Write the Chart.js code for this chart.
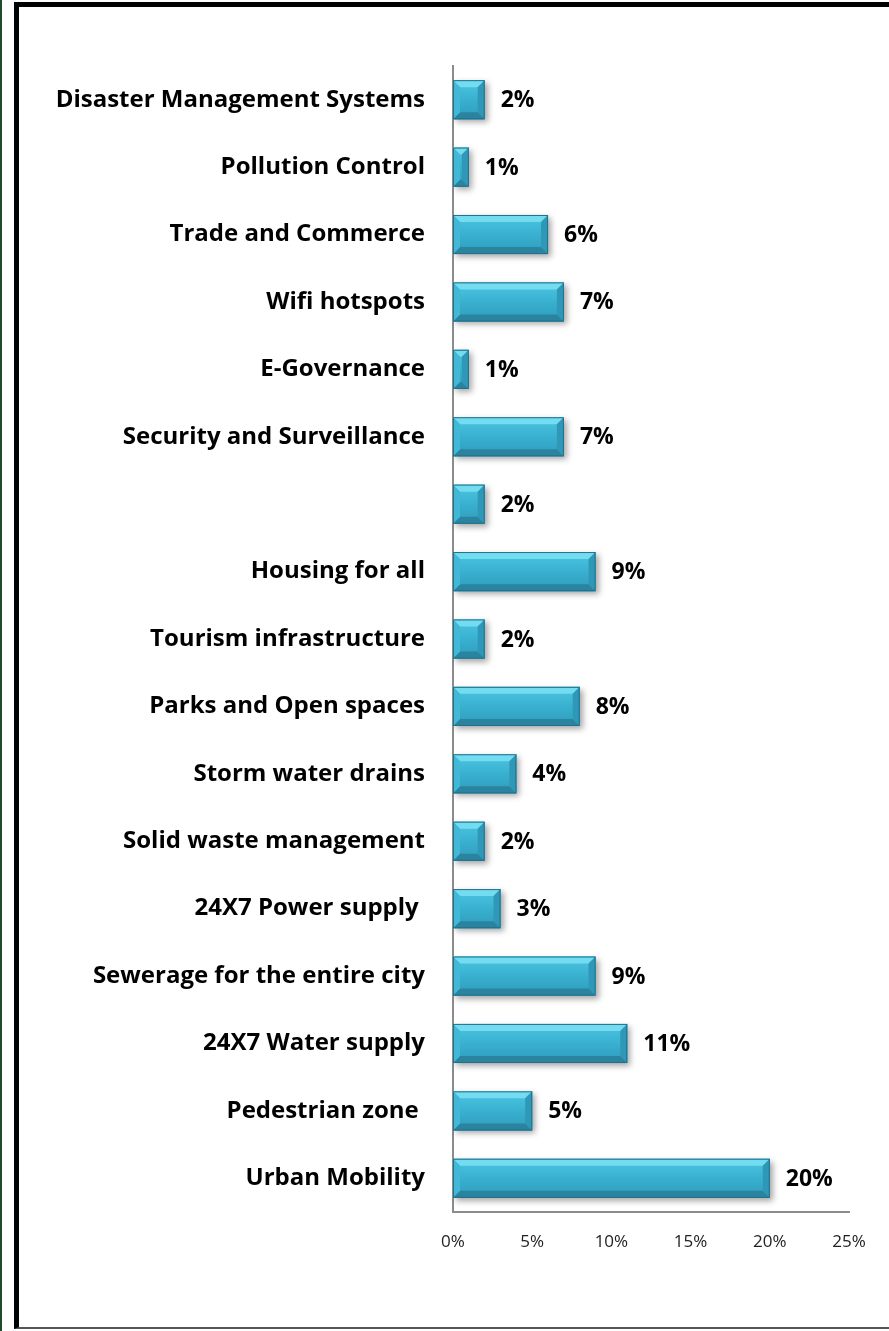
<!DOCTYPE html>
<html>
<head>
<meta charset="utf-8">
<script src="https://cdn.jsdelivr.net/npm/chart.js@4.4.1/dist/chart.umd.min.js"></script>
<style>
  html, body { margin: 0; padding: 0; background: #fff; overflow: hidden; }
  #strip { position: absolute; left: 0; top: 0; width: 2px; height: 1331px; background: #1f4a2c; }
  #frame { position: absolute; left: 14px; top: 2px; width: 900px; height: 1320px;
           border-left: 5px solid #000; border-top: 5px solid #000; border-bottom: 2px solid #555; }
  #wrap { position: absolute; left: 0; top: 0; width: 889px; height: 1331px; }
</style>
</head>
<body>
<div id="strip"></div>
<div id="frame"></div>
<div id="wrap"><canvas id="chart"></canvas></div>
<script>
// categories listed top to bottom, as in the picture
const categories = [
  'Disaster Management Systems',
  'Pollution Control',
  'Trade and Commerce',
  'Wifi hotspots',
  'E-Governance',
  'Security and Surveillance',
  '',
  'Housing for all',
  'Tourism infrastructure',
  'Parks and Open spaces',
  'Storm water drains',
  'Solid waste management',
  '24X7 Power supply ',
  'Sewerage for the entire city',
  '24X7 Water supply',
  'Pedestrian zone ',
  'Urban Mobility'
];
// share of responses, percent
const shares = [2, 1, 6, 7, 1, 7, 2, 9, 2, 8, 4, 2, 3, 9, 11, 5, 20];
const xTicks = [0, 5, 10, 15, 20, 25];

const FAMILY = "'Open Sans', 'Liberation Sans', sans-serif";
const LABEL_FONT = "bold 23px " + FAMILY;

// shadow under the bars, then a bevelled face on top of each bar
const bevelBars = {
  id: 'bevelBars',
  beforeDatasetsDraw(chart) {
    const c = chart.ctx;
    c.save();
    c.shadowColor = 'rgba(0,0,0,0.35)';
    c.shadowBlur = 6;
    c.shadowOffsetX = 3;
    c.shadowOffsetY = 3;
  },
  afterDatasetsDraw(chart) {
    const c = chart.ctx;
    c.restore();
    const meta = chart.getDatasetMeta(0);
    meta.data.forEach((el, i) => {
      const p = el.getProps(['x', 'y', 'base', 'height'], true);
      const x0 = p.base, x1 = p.x;
      const y0 = p.y - p.height / 2, y1 = p.y + p.height / 2;
      const b = Math.min(7, (x1 - x0) / 2);
      // main face
      const g = c.createLinearGradient(0, y0, 0, y1);
      g.addColorStop(0, '#4cc6e2');
      g.addColorStop(0.5, '#39b0d0');
      g.addColorStop(1, '#2f9bbb');
      c.fillStyle = g;
      c.fillRect(x0, y0, x1 - x0, y1 - y0);
      // top bevel
      c.fillStyle = '#74dcf1';
      c.beginPath();
      c.moveTo(x0, y0); c.lineTo(x1, y0); c.lineTo(x1 - b, y0 + b); c.lineTo(x0 + b, y0 + b);
      c.closePath(); c.fill();
      // bottom bevel
      c.fillStyle = '#2a839f';
      c.beginPath();
      c.moveTo(x0, y1); c.lineTo(x1, y1); c.lineTo(x1 - b, y1 - b); c.lineTo(x0 + b, y1 - b);
      c.closePath(); c.fill();
      // right bevel
      c.fillStyle = '#3098b7';
      c.beginPath();
      c.moveTo(x1, y0); c.lineTo(x1, y1); c.lineTo(x1 - b, y1 - b); c.lineTo(x1 - b, y0 + b);
      c.closePath(); c.fill();
      // left bevel
      c.fillStyle = '#41b8d6';
      c.beginPath();
      c.moveTo(x0, y0); c.lineTo(x0, y1); c.lineTo(x0 + b, y1 - b); c.lineTo(x0 + b, y0 + b);
      c.closePath(); c.fill();
      // outline
      c.strokeStyle = '#23708a';
      c.lineWidth = 1;
      c.strokeRect(x0 + 0.5, y0 + 0.5, x1 - x0 - 1, y1 - y0 - 1);
      // value label
      c.fillStyle = '#000';
      c.font = LABEL_FONT;
      c.textAlign = 'left';
      c.textBaseline = 'middle';
      c.fillText(shares[i] + '%', x1 + 16, p.y + 1);
    });
  }
};

new Chart(document.getElementById('chart'), {
  type: 'bar',
  data: {
    labels: categories,
    datasets: [{
      data: shares,
      backgroundColor: '#39b0d0',
      borderWidth: 0,
      barPercentage: 0.58,
      categoryPercentage: 1
    }]
  },
  options: {
    indexAxis: 'y',
    responsive: true,
    maintainAspectRatio: false,
    animation: false,
    layout: { padding: { top: 66, right: 40, left: 0, bottom: 0 } },
    plugins: { legend: { display: false }, tooltip: { enabled: false } },
    scales: {
      x: {
        min: 0, max: 25,
        afterBuildTicks: s => { s.ticks = xTicks.map(v => ({ value: v })); },
        afterFit: s => { s.height = 1331 - 1212; },
        grid: { display: false, drawTicks: false },
        border: { display: true, color: '#8c8c8c', width: 2 },
        ticks: {
          padding: 20,
          color: '#222',
          font: { family: FAMILY, size: 17 },
          callback: v => v + '%'
        }
      },
      y: {
        afterFit: s => { s.width = 453; },
        grid: { display: false, drawTicks: false },
        border: { display: true, color: '#8c8c8c', width: 2 },
        ticks: {
          padding: 28,
          color: '#000',
          font: { family: FAMILY, size: 24, weight: 'bold' }
        }
      }
    }
  },
  plugins: [bevelBars]
});
</script>
</body>
</html>
